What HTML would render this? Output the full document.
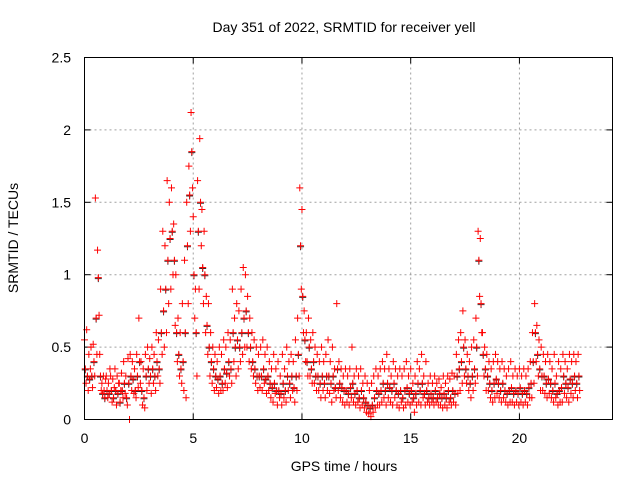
<!DOCTYPE html>
<html><head><meta charset="utf-8"><style>
body{margin:0;background:#fff;}
svg{display:block;font-family:"Liberation Sans",sans-serif;}
</style></head><body>
<svg id="chart" width="640" height="480" viewBox="0 0 640 480">
<rect width="640" height="480" fill="#fff"/>
<g id="grid"></g><g id="ticks"></g><g id="marks-black"></g><g id="marks-red"></g>
<rect x="84.5" y="57.5" width="528" height="362" fill="none" stroke="#000" stroke-width="1"/>
<text x="344" y="32" font-size="14" text-anchor="middle">Day 351 of 2022, SRMTID for receiver yell</text>
<text x="344" y="471" font-size="14" text-anchor="middle">GPS time / hours</text>
<text x="0" y="0" font-size="14" text-anchor="middle" transform="translate(18,238) rotate(-90)">SRMTID / TECUs</text>
</svg>
<script>
const startHour = 0;
const stepHours = 0.1;
const values = [
[0.55,0.35,0.25],[0.62,0.3,0.2],[0.45,0.28,0.35],[0.5,0.3,0.22],[0.52,0.4,0.3],[1.53,0.7,0.45],[1.17,0.98,0.72],[0.45,0.3,0.2],[0.25,0.18,0.3],[0.2,0.15,0.28],
[0.3,0.2,0.15],[0.25,0.18,0.35],[0.3,0.2,0.12],[0.28,0.15,0.22],[0.35,0.2,0.1],[0.3,0.18,0.25],[0.25,0.12,0.2],[0.32,0.2,0.15],[0.4,0.25,0.18],[0.3,0.15,0.1],
[0.42,0.25,0.0],[0.45,0.3,0.2],[0.4,0.28,0.18],[0.35,0.2,0.15],[0.45,0.3,0.22],[0.7,0.4,0.25],[0.4,0.2,0.1],[0.35,0.15,0.08],[0.45,0.3,0.2],[0.5,0.35,0.25],
[0.42,0.3,0.18],[0.5,0.35,0.25],[0.45,0.3,0.2],[0.6,0.4,0.3],[0.55,0.35,0.25],[0.9,0.6,0.45],[1.3,0.75,0.5],[1.2,0.9,0.6],[1.65,1.1,0.8],[1.5,1.25,0.9],
[1.6,1.3,1.0],[1.35,1.1,0.65],[1.0,0.6,0.4],[0.7,0.45,0.3],[0.6,0.35,0.25],[0.8,0.4,0.2],[1.1,0.6,0.15],[1.5,1.2,0.8],[1.75,1.55,1.3],[2.12,1.85,1.6],
[1.4,1.0,0.7],[0.9,0.6,0.3],[1.65,1.3,0.9],[1.94,1.5,1.2],[1.45,1.05,0.8],[1.3,1.0,0.6],[0.85,0.65,0.45],[0.8,0.5,0.3],[0.6,0.4,0.25],[0.5,0.35,0.2],
[0.45,0.3,0.22],[0.4,0.28,0.18],[0.5,0.3,0.2],[0.45,0.25,0.2],[0.55,0.35,0.25],[0.5,0.32,0.22],[0.6,0.4,0.3],[0.55,0.35,0.25],[0.9,0.6,0.4],[0.7,0.5,0.3],
[0.8,0.55,0.35],[0.75,0.5,0.4],[0.9,0.6,0.45],[1.05,0.7,0.5],[1.0,0.75,0.5],[0.85,0.6,0.4],[0.7,0.5,0.35],[0.6,0.4,0.3],[0.55,0.35,0.25],[0.5,0.3,0.2],
[0.45,0.3,0.22],[0.5,0.3,0.2],[0.55,0.35,0.25],[0.45,0.28,0.18],[0.5,0.3,0.2],[0.4,0.25,0.15],[0.35,0.22,0.12],[0.45,0.25,0.18],[0.35,0.2,0.1],[0.4,0.2,0.15],
[0.3,0.18,0.1],[0.45,0.25,0.15],[0.35,0.2,0.12],[0.5,0.3,0.2],[0.4,0.25,0.15],[0.45,0.3,0.2],[0.4,0.22,0.12],[0.55,0.3,0.2],[0.7,0.45,0.3],[1.6,1.2,0.9],
[1.45,0.85,0.6],[0.75,0.55,0.4],[0.6,0.4,0.3],[0.7,0.5,0.3],[0.55,0.35,0.25],[0.6,0.4,0.25],[0.5,0.3,0.2],[0.45,0.3,0.2],[0.4,0.25,0.15],[0.5,0.3,0.2],
[0.4,0.25,0.15],[0.45,0.3,0.2],[0.55,0.3,0.18],[0.4,0.25,0.12],[0.5,0.3,0.2],[0.35,0.22,0.15],[0.8,0.35,0.2],[0.4,0.25,0.15],[0.35,0.22,0.12],[0.3,0.2,0.1],
[0.35,0.2,0.12],[0.3,0.18,0.1],[0.35,0.22,0.15],[0.5,0.25,0.12],[0.3,0.18,0.1],[0.35,0.2,0.12],[0.3,0.15,0.08],[0.35,0.2,0.1],[0.25,0.15,0.08],[0.3,0.12,0.05],
[0.25,0.1,0.04],[0.2,0.08,0.02],[0.25,0.1,0.05],[0.3,0.15,0.08],[0.35,0.2,0.1],[0.3,0.18,0.1],[0.35,0.2,0.12],[0.4,0.25,0.15],[0.35,0.2,0.1],[0.45,0.25,0.15],
[0.35,0.22,0.12],[0.3,0.2,0.1],[0.4,0.25,0.15],[0.35,0.2,0.1],[0.3,0.18,0.08],[0.35,0.2,0.12],[0.3,0.15,0.08],[0.35,0.2,0.1],[0.4,0.22,0.12],[0.3,0.18,0.1],
[0.35,0.2,0.12],[0.25,0.15,0.05],[0.3,0.18,0.1],[0.4,0.25,0.12],[0.35,0.2,0.1],[0.45,0.25,0.15],[0.3,0.18,0.1],[0.4,0.2,0.12],[0.25,0.15,0.1],[0.3,0.18,0.12],
[0.25,0.15,0.1],[0.3,0.2,0.12],[0.25,0.15,0.1],[0.28,0.18,0.1],[0.22,0.15,0.08],[0.3,0.18,0.1],[0.25,0.15,0.08],[0.3,0.2,0.12],[0.28,0.15,0.1],[0.32,0.2,0.12],
[0.3,0.18,0.1],[0.45,0.3,0.18],[0.55,0.35,0.2],[0.6,0.4,0.25],[0.75,0.5,0.3],[0.55,0.35,0.25],[0.45,0.3,0.2],[0.4,0.25,0.15],[0.5,0.3,0.2],[0.55,0.35,0.25],
[0.7,0.5,0.3],[1.3,1.1,0.85],[1.25,0.8,0.6],[0.6,0.45,0.3],[0.5,0.35,0.2],[0.45,0.3,0.2],[0.4,0.25,0.15],[0.35,0.2,0.12],[0.4,0.25,0.15],[0.45,0.28,0.18],
[0.4,0.25,0.15],[0.35,0.2,0.12],[0.4,0.25,0.15],[0.35,0.2,0.12],[0.3,0.18,0.1],[0.35,0.2,0.12],[0.4,0.22,0.12],[0.3,0.18,0.1],[0.35,0.2,0.12],[0.3,0.18,0.1],
[0.35,0.22,0.12],[0.3,0.18,0.1],[0.35,0.2,0.12],[0.3,0.18,0.1],[0.35,0.22,0.15],[0.4,0.25,0.15],[0.6,0.4,0.25],[0.8,0.6,0.4],[0.65,0.45,0.3],[0.55,0.35,0.2],
[0.5,0.3,0.2],[0.45,0.3,0.18],[0.4,0.25,0.15],[0.45,0.28,0.18],[0.4,0.25,0.15],[0.35,0.2,0.12],[0.45,0.25,0.15],[0.3,0.18,0.1],[0.4,0.2,0.12],[0.35,0.22,0.12],
[0.45,0.3,0.18],[0.4,0.25,0.15],[0.35,0.22,0.12],[0.45,0.28,0.18],[0.4,0.25,0.15],[0.45,0.3,0.2],[0.4,0.25,0.15],[0.45,0.3,0.2]
];
const xTicks = [0,5,10,15,20];
const yTicks = [0,0.5,1,1.5,2,2.5];
const yTickLabels = ["0","0.5","1","1.5","2","2.5"];

const NS="http://www.w3.org/2000/svg";
const X0=84.5,X1=612.5,Y0=419.5,Y1=57.5,XMAX=24.28,YMAX=2.5;
function xs(v){return X0+(X1-X0)*v/XMAX;}
function ys(v){return Y0-(Y0-Y1)*v/YMAX;}
function mk(tag,attrs,parent){const e=document.createElementNS(NS,tag);for(const k in attrs)e.setAttribute(k,attrs[k]);parent.appendChild(e);return e;}
const grid=document.getElementById('grid'),ticks=document.getElementById('ticks');
xTicks.forEach(t=>{
  const x=xs(t);
  if(t>0){const g=mk('line',{x1:x,x2:x,y1:Y0,y2:Y1,stroke:'#a0a0a0','stroke-dasharray':'2,3'},grid);
  
  }
  mk('line',{x1:x,x2:x,y1:Y0,y2:Y0-6,stroke:'#000'},ticks);
  mk('line',{x1:x,x2:x,y1:Y1,y2:Y1+6,stroke:'#000'},ticks);
  const l=mk('text',{x:x,y:443,'font-size':14,'text-anchor':'middle'},ticks);l.textContent=t;
  
  
});
yTicks.forEach((t,i)=>{
  const y=ys(t);
  if(t>0&&t<YMAX){const g=mk('line',{x1:X0,x2:X1,y1:y,y2:y,stroke:'#a0a0a0','stroke-dasharray':'2,3'},grid);
  
  }
  mk('line',{x1:X0,x2:X0+6,y1:y,y2:y,stroke:'#000'},ticks);
  mk('line',{x1:X1,x2:X1-6,y1:y,y2:y,stroke:'#000'},ticks);
  const l=mk('text',{x:71,y:y+5,'font-size':14,'text-anchor':'end'},ticks);l.textContent=yTickLabels[i];
  
  
});
const gb=document.getElementById('marks-black'),gr=document.getElementById('marks-red');
const sub=[0,0.035,0.07];
function plus(g,x,y,c){const p=mk('path',{d:`M${x-3.5} ${y}h7M${x} ${y-3.5}v7`,stroke:c,'stroke-width':1,fill:'none'},g);return p;}
values.forEach((trip,i)=>{
  const t=startHour+i*stepHours;
  trip.forEach((v,j)=>{
    if(j===1){
      const b=plus(gb,xs(t+sub[j]),ys(v)+1,'#303030');
      
      
    }
    const r=plus(gr,xs(t+sub[j]),ys(v),'#ff0000');
    
    
  });
});
</script>
</body></html>
